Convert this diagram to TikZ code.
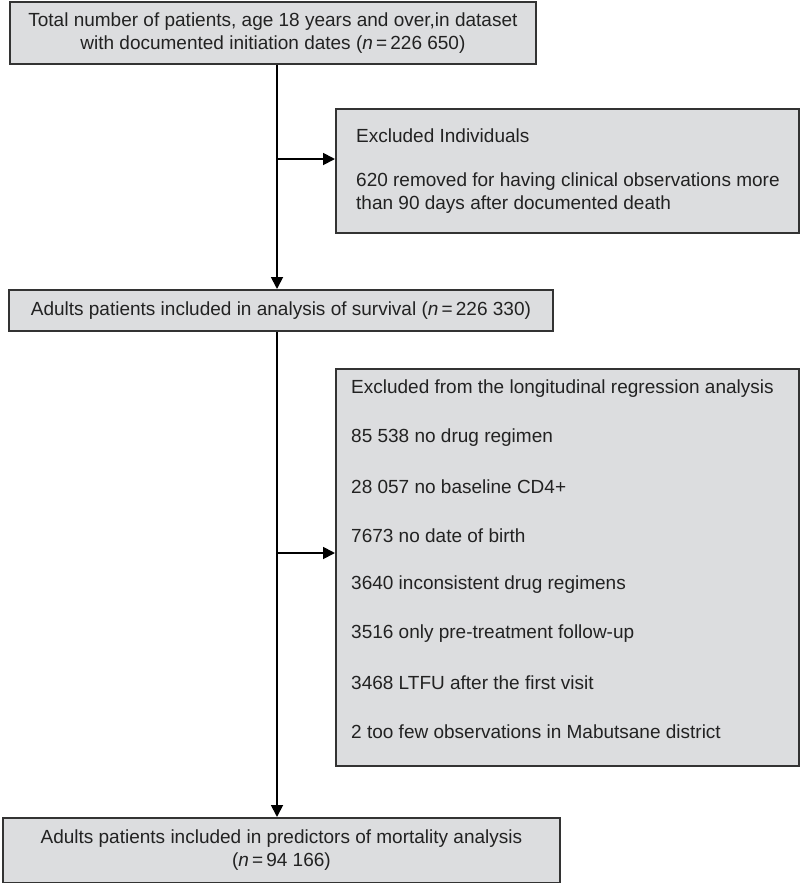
\documentclass[tikz,border=0pt]{standalone}
\usepackage{fontspec}
\setmainfont{Liberation Sans}
\usetikzlibrary{arrows.meta}
\definecolor{boxfill}{HTML}{DCDDDF}
\definecolor{boxline}{HTML}{333333}
\definecolor{inktext}{HTML}{222222}
\begin{document}
\begin{tikzpicture}[x=1pt,y=-1pt,
  box/.style={draw=boxline, fill=boxfill, line width=1.8pt, inner sep=0pt, anchor=north west},
  txt/.style={inner sep=0pt, text=inktext, font=\fontsize{19}{23}\selectfont},
  ltxt/.style={txt, anchor=west},
  conn/.style={draw=black, line width=1.8pt},
  arr/.style={conn, -{Triangle[length=12pt,width=12pt]}}]
\useasboundingbox (0,0) rectangle (800,883);
% boxes
\node[box, minimum width=526pt, minimum height=62pt] (b1) at (9,1) {};
\node[box, minimum width=463pt, minimum height=124pt] (b2) at (335,108) {};
\node[box, minimum width=544pt, minimum height=41pt] (b3) at (8,289) {};
\node[box, minimum width=463pt, minimum height=397pt] (b4) at (335,368) {};
\node[box, minimum width=557pt, minimum height=65pt] (b5) at (2,817) {};
% texts
\node[txt, align=center] (t1) at (b1.center) {Total number of patients, age 18 years and over,in dataset\\with documented initiation dates (\textit{n}\,=\,226 650)};
\node[ltxt] (t2a) at (356,136) {Excluded Individuals};
\node[ltxt, align=left] (t2b) at (356,193) {620 removed for having clinical observations more\\than 90 days after documented death};
\node[txt] (t3) at (b3.center) {Adults patients included in analysis of survival (\textit{n}\,=\,226 330)};
\node[ltxt] (t4a) at (351,389) {Excluded from the longitudinal regression analysis};
\node[ltxt] (t4b) at (351,438) {85 538 no drug regimen};
\node[ltxt] (t4c) at (351,487) {28 057 no baseline CD4+};
\node[ltxt] (t4d) at (351,536) {7673 no date of birth};
\node[ltxt] (t4e) at (351,585) {3640 inconsistent drug regimens};
\node[ltxt] (t4f) at (351,634) {3516 only pre-treatment follow-up};
\node[ltxt] (t4g) at (351,683) {3468 LTFU after the first visit};
\node[ltxt] (t4h) at (351,732) {2 too few observations in Mabutsane district};
\node[txt, align=center] (t5) at (b5.center) {Adults patients included in predictors of mortality analysis\\(\textit{n}\,=\,94 166)};
% connectors
\coordinate (j1) at (277,159);
\coordinate (j2) at (277,553);
\draw[arr] (b1.south -| j1) -- (b3.north -| j1);
\draw[arr] (j1) -- (j1 -| b2.west);
\draw[arr] (b3.south -| j2) -- (b5.north -| j2);
\draw[arr] (j2) -- (j2 -| b4.west);
\end{tikzpicture}
\end{document}
